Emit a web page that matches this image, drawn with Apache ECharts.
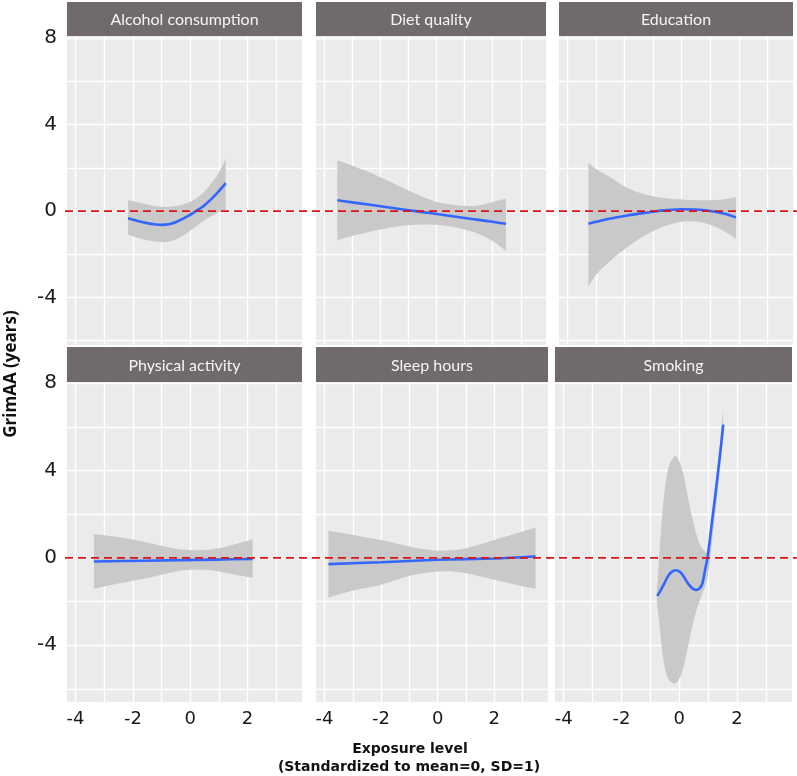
<!DOCTYPE html>
<html><head><meta charset="utf-8">
<script src="https://cdn.jsdelivr.net/npm/echarts@6/dist/echarts.min.js"></script>
<style>html,body{margin:0;padding:0;background:#fff}#c{width:797px;height:776px}</style>
</head><body><div id="c"></div>
<script>
// ---------- data ----------
const panelTitles = ['Alcohol consumption','Diet quality','Education','Physical activity','Sleep hours','Smoking'];
const xTickLabels = [-4,-2,0,2];
const yTickLabels = [-4,0,4,8];
const xGridValues = [-4,-3,-2,-1,0,1,2,3];
const yGridValues = [-6,-4,-2,0,2,4,6,8];
const referenceLevel = 0;

// Alcohol consumption
const alcoholX     = [-2.17,-1.8,-1.5,-1.2,-1.0,-0.7,-0.4,-0.1,0.2,0.5,0.8,1.0,1.24];
const alcoholFit   = [-0.33,-0.47,-0.56,-0.62,-0.64,-0.6,-0.45,-0.25,0.0,0.27,0.64,0.92,1.29];
const alcoholUpper = [0.5,0.4,0.3,0.22,0.2,0.2,0.26,0.37,0.58,0.9,1.4,1.8,2.4];
const alcoholLower = [-1.1,-1.25,-1.35,-1.42,-1.44,-1.4,-1.25,-1.0,-0.72,-0.42,-0.2,-0.05,0.05];

// Diet quality
const dietX     = [-3.54,-3,-2.5,-2,-1.5,-1,-0.5,0,0.5,1,1.5,2,2.47];
const dietFit   = [0.5,0.4,0.31,0.22,0.13,0.04,-0.05,-0.14,-0.23,-0.32,-0.41,-0.5,-0.59];
const dietUpper = [2.35,2.1,1.85,1.56,1.25,0.95,0.66,0.42,0.3,0.24,0.26,0.42,0.58];
const dietLower = [-1.35,-1.15,-1.0,-0.86,-0.74,-0.66,-0.62,-0.64,-0.72,-0.86,-1.06,-1.39,-1.85];

// Education
const eduX     = [-3.27,-3,-2.5,-2,-1.5,-1,-0.5,0,0.5,1,1.5,1.9];
const eduFit   = [-0.59,-0.5,-0.35,-0.23,-0.12,-0.03,0.04,0.08,0.07,0.0,-0.13,-0.3];
const eduUpper = [2.24,1.95,1.56,1.14,0.86,0.68,0.58,0.53,0.5,0.5,0.55,0.65];
const eduLower = [-3.52,-2.95,-2.3,-1.77,-1.3,-0.94,-0.66,-0.5,-0.48,-0.64,-0.95,-1.29];

// Physical activity
const physFitX  = [-3.36,-1.55,0.86,2.18];
const physFit   = [-0.17,-0.13,-0.08,-0.05];
const physX     = [-3.36,-2.5,-1.5,-1,-0.5,0,0.5,1,1.5,2.18];
const physUpper = [1.09,0.95,0.7,0.55,0.42,0.36,0.36,0.44,0.6,0.85];
const physLower = [-1.42,-1.18,-0.92,-0.77,-0.62,-0.55,-0.55,-0.62,-0.75,-0.92];

// Sleep hours
const sleepFitX  = [-3.86,-2,0,2,3.46];
const sleepFit   = [-0.29,-0.2,-0.09,-0.03,0.06];
const sleepX     = [-3.86,-3,-2,-1,-0.5,0,0.5,1,2,3,3.46];
const sleepUpper = [1.24,1.05,0.82,0.52,0.4,0.33,0.35,0.44,0.82,1.2,1.39];
const sleepLower = [-1.83,-1.5,-1.23,-0.82,-0.7,-0.62,-0.62,-0.7,-1.0,-1.3,-1.42];

// Smoking
const smokeFitX  = [-0.76,-0.65,-0.53,-0.37,-0.25,-0.14,-0.03,0.08,0.2,0.3,0.47,0.58,0.7,0.8,0.9,0.97,1.05,1.15,1.25,1.35,1.45,1.52];
const smokeFit   = [-1.74,-1.5,-1.2,-0.8,-0.63,-0.57,-0.6,-0.72,-0.95,-1.17,-1.42,-1.47,-1.4,-1.17,-0.5,-0.05,0.75,1.85,2.9,4.05,5.2,6.1];
const smokeX     = [-0.78,-0.7,-0.64,-0.53,-0.37,-0.14,0.08,0.3,0.52,0.74,0.97,1.19,1.36,1.52];
const smokeUpper = [-1.69,0.0,1.15,2.79,4.14,4.66,4.14,2.79,1.45,0.55,0.26,2.65,4.59,6.83];
const smokeLower = [-1.99,-2.9,-3.63,-4.83,-5.57,-5.75,-5.28,-4.08,-2.74,-1.84,-0.94,1.45,3.39,5.64];

const panels = [
  {fitX: alcoholX, fit: alcoholFit, bandX: alcoholX, up: alcoholUpper, lo: alcoholLower},
  {fitX: dietX, fit: dietFit, bandX: dietX, up: dietUpper, lo: dietLower},
  {fitX: eduX, fit: eduFit, bandX: eduX, up: eduUpper, lo: eduLower},
  {fitX: physFitX, fit: physFit, bandX: physX, up: physUpper, lo: physLower},
  {fitX: sleepFitX, fit: sleepFit, bandX: sleepX, up: sleepUpper, lo: sleepLower},
  {fitX: smokeFitX, fit: smokeFit, bandX: smokeX, up: smokeUpper, lo: smokeLower}
];

// ---------- layout ----------
const rows = [{top:36,height:309,min:-6.2,max:8.1,stripTop:2,stripH:34,
               cols:[{left:67,width:235},{left:316,width:230},{left:559,width:234}]},
              {top:382,height:320,min:-6.6,max:8.05,stripTop:347,stripH:35,
               cols:[{left:67,width:235},{left:316,width:232},{left:555,width:237}]}];
const X_MIN = -4.3, X_MAX = 3.9;
const BAND = '#c9c9c9';

const grids = [], xAxes = [], yAxes = [], series = [], graphics = [];
panels.forEach((p, i) => {
  const r = rows[Math.floor(i/3)], c = r.cols[i%3];
  const bottomRow = i >= 3, leftCol = i%3 === 0;
  grids.push({left:c.left, top:r.top, width:c.width, height:r.height, show:true,
    backgroundColor:'#ebebeb', borderWidth:0});
  xAxes.push({type:'value', gridIndex:i, min:X_MIN, max:X_MAX,
    axisLine:{show:false},
    axisTick:{show:false, customValues:xGridValues},
    axisLabel:{show:bottomRow, customValues:xTickLabels, margin:8,
      fontFamily:'DejaVu Sans', fontSize:18, color:'#1a1a1a'},
    splitLine:{show:true, lineStyle:{color:'#ffffff', width:1.4}}});
  yAxes.push({type:'value', gridIndex:i, min:r.min, max:r.max,
    axisLine:{show:false},
    axisTick:{show:false, customValues:yGridValues},
    axisLabel:{show:leftCol, customValues:yTickLabels, margin:10,
      fontFamily:'DejaVu Sans', fontSize:20, color:'#1a1a1a'},
    splitLine:{show:true, lineStyle:{color:'#ffffff', width:1.4}}});
  const xs = p.bandX, up = p.up, lo = p.lo;
  series.push({type:'custom', xAxisIndex:i, yAxisIndex:i, z:2, silent:true,
    data:[[xs[0], up[0]]],
    renderItem:function(params, api){
      const n = xs.length, pts = [];
      pts.push(api.coord([xs[0], up[0]]));
      for (let k=0;k<n;k++) pts.push(api.coord([xs[k], up[k]]));
      pts.push(api.coord([xs[n-1], up[n-1]]));
      pts.push(api.coord([xs[n-1], lo[n-1]]));
      for (let k=n-1;k>=0;k--) pts.push(api.coord([xs[k], lo[k]]));
      pts.push(api.coord([xs[0], lo[0]]));
      return {type:'polygon', shape:{points:pts, smooth:0.35}, style:{fill:BAND}};
    }});
  series.push({type:'line', xAxisIndex:i, yAxisIndex:i, z:3, silent:true,
    showSymbol:false, smooth:0.3,
    data:p.fitX.map((x,k)=>[x, p.fit[k]]),
    lineStyle:{color:'#3366ff', width:2.6}});
  graphics.push({type:'rect', shape:{x:c.left, y:r.stripTop, width:c.width, height:r.stripH},
    style:{fill:'#706b6a'}});
  graphics.push({type:'text', x:c.left + c.width/2, y:r.stripTop + r.stripH/2 + 1,
    style:{text:panelTitles[i], fill:'#f4f4f4', font:'16px Lato', align:'center', verticalAlign:'middle'}});
});

// overlay grids for the reference (y = 0) dashed line spanning each row
rows.forEach((r, j) => {
  const gi = grids.length;
  grids.push({left:65, right:0, top:r.top, height:r.height, show:false});
  xAxes.push({type:'value', gridIndex:gi, min:0, max:1, show:false});
  yAxes.push({type:'value', gridIndex:gi, min:r.min, max:r.max, show:false});
  series.push({type:'line', xAxisIndex:gi, yAxisIndex:gi, z:10, silent:true, showSymbol:false,
    data:[[0, referenceLevel],[1, referenceLevel]],
    lineStyle:{color:'#d91414', width:1.8, type:[8,5]}});
});

graphics.push({type:'text', x:11, y:374, rotation:Math.PI/2,
  style:{text:'GrimAA (years)', fill:'#111', font:'bold 17px "Open Sans"', align:'center', verticalAlign:'middle'}});
graphics.push({type:'text', x:410, y:749,
  style:{text:'Exposure level', fill:'#111', font:'bold 14px "DejaVu Sans"', align:'center', verticalAlign:'middle'}});
graphics.push({type:'text', x:409, y:767,
  style:{text:'(Standardized to mean=0, SD=1)', fill:'#111', font:'bold 14px "DejaVu Sans"', align:'center', verticalAlign:'middle'}});

const chart = echarts.init(document.getElementById('c'), null, {renderer:'canvas'});
chart.setOption({animation:false, backgroundColor:'#ffffff',
  grid:grids, xAxis:xAxes, yAxis:yAxes, series:series, graphic:graphics});
</script>
</body></html>
